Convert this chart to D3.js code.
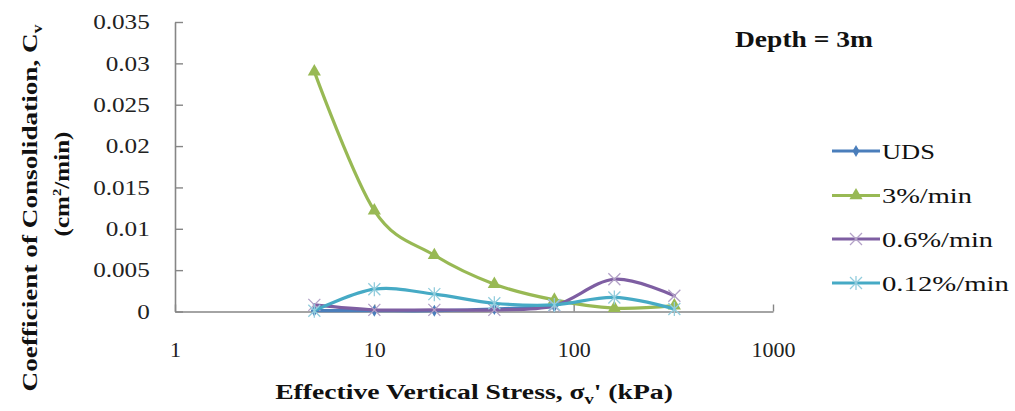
<!DOCTYPE html>
<html><head><meta charset="utf-8">
<script src="https://cdn.jsdelivr.net/npm/d3@7"></script>
<style>body{margin:0;background:#fff}svg{display:block}</style>
</head><body>
<svg id="c" width="1015" height="411"></svg>
<script>
// ---- data ----
const stress = [5, 10, 20, 40, 80, 160, 320];
const udsStress = [5, 10, 20, 40, 80];
const uds = [0.0001, 0.0001, 0.0001, 0.0003, 0.0006];
const rate3 = [0.029, 0.0122, 0.0068, 0.0033, 0.0014, 0.0004, 0.0007];
const rate06 = [0.0008, 0.0002, 0.0002, 0.0002, 0.0007, 0.0039, 0.0019];
const rate012 = [0.0001, 0.0027, 0.0021, 0.0010, 0.0008, 0.0017, 0.0003];
const yTicks = [0, 0.005, 0.01, 0.015, 0.02, 0.025, 0.03, 0.035];
const yTickLabels = ["0", "0.005", "0.01", "0.015", "0.02", "0.025", "0.03", "0.035"];
const xTicks = [1, 10, 100, 1000];
const xTickLabels = ["1", "10", "100", "1000"];
const seriesNames = ["UDS", "3%/min", "0.6%/min", "0.12%/min"];

const FONT = "'Liberation Serif','Times New Roman',serif";
const svg = d3.select("#c");
const x = d3.scaleLog().domain([1, 1000]).range([175, 773]);
const y = d3.scaleLinear().domain([0, 0.035]).range([311.5, 22]);

// axes
const yAxis = svg.append("g").attr("transform", `translate(${x(1)},0)`)
  .call(d3.axisLeft(y).tickValues(yTicks).tickFormat((d, i) => yTickLabels[i])
    .tickSizeInner(-8).tickSizeOuter(0).tickPadding(21));
const xAxis = svg.append("g").attr("transform", `translate(0,${y(0)})`)
  .call(d3.axisBottom(x).tickValues(xTicks).tickFormat((d, i) => xTickLabels[i])
    .tickSizeInner(-7).tickSizeOuter(0).tickPadding(31));
[yAxis, xAxis].forEach(g => {
  g.select(".domain").attr("stroke", "#868686").attr("stroke-width", 1.6);
  g.selectAll(".tick line").attr("stroke", "#868686").attr("stroke-width", 1.4);
  g.selectAll(".tick text").attr("fill", "#222").style("font-family", FONT);
});
yAxis.selectAll(".tick text").style("font-size", "21px").attr("transform", "scale(1.2,1)").attr("x", -21);
xAxis.selectAll(".tick text").style("font-size", "20px").attr("transform", "scale(1.1,1)");

// series
const colors = ["#4A7EBB", "#98B954", "#7E5EA2", "#46AAC5"];
const markColors = ["#4A7EBB", "#98B954", "#B3A2C7", "#93CDDD"];
const series = [
  {name: seriesNames[0], xs: udsStress, ys: uds, mark: "diamond"},
  {name: seriesNames[1], xs: stress, ys: rate3, mark: "triangle"},
  {name: seriesNames[2], xs: stress, ys: rate06, mark: "x"},
  {name: seriesNames[3], xs: stress, ys: rate012, mark: "star"}
];
const line = d3.line().x(d => x(d[0])).y(d => y(d[1])).curve(d3.curveCardinal.tension(0));

function drawMarker(g, type, cx, cy, i) {
  if (type === "diamond") {
    g.append("path").attr("d", d3.symbol(d3.symbolDiamond, 42)()).attr("transform", `translate(${cx},${cy})`).attr("fill", markColors[i]);
  } else if (type === "triangle") {
    g.append("path").attr("d", d3.symbol(d3.symbolTriangle, 75)()).attr("transform", `translate(${cx},${cy})`).attr("fill", markColors[i]);
  } else {
    const r = 6;
    const p = d3.path();
    p.moveTo(cx - r, cy - r); p.lineTo(cx + r, cy + r);
    p.moveTo(cx - r, cy + r); p.lineTo(cx + r, cy - r);
    if (type === "star") { p.moveTo(cx, cy - r - 1); p.lineTo(cx, cy + r + 1); }
    g.append("path").attr("d", p.toString()).attr("stroke", markColors[i]).attr("stroke-width", 1.3).attr("fill", "none");
  }
}

series.forEach((s, i) => {
  const g = svg.append("g");
  const pts = s.xs.map((v, k) => [v, s.ys[k]]);
  g.append("path").attr("d", line(pts)).attr("fill", "none").attr("stroke", colors[i])
    .attr("stroke-width", 3.2).attr("stroke-linejoin", "round").attr("stroke-linecap", "round");
  pts.forEach(p => drawMarker(g, s.mark, x(p[0]), y(p[1]), i));
});

// text helper with horizontal fitting
function addText(parts, px, py, o) {
  const t = svg.append("text").attr("x", 0).attr("y", 0)
    .style("font-family", FONT).style("font-size", o.size + "px")
    .style("font-weight", o.weight || "normal").attr("fill", "#111")
    .attr("text-anchor", o.anchor || "start");
  parts.forEach(p => {
    const ts = t.append("tspan").text(p.t);
    if (p.dy) ts.attr("dy", p.dy);
    if (p.fs) ts.style("font-size", p.fs + "px");
  });
  const w = t.node().getComputedTextLength();
  const sx = o.width ? o.width / w : 1;
  t.attr("transform", `translate(${px},${py}) rotate(${o.rotate || 0}) scale(${sx},1)`);
  return t;
}

// y title
addText([{t: "Coefficient of Consolidation, C"}, {t: "v", dy: 5, fs: 14}], 37, 208,
  {size: 22, weight: "bold", anchor: "middle", rotate: -90, width: 367});
addText([{t: "(cm"}, {t: "2", dy: -8, fs: 13}, {t: "/min)", dy: 8}], 69, 184,
  {size: 22, weight: "bold", anchor: "middle", rotate: -90, width: 105});
// x title
addText([{t: "Effective Vertical Stress, σ"}, {t: "v", dy: 5, fs: 14}, {t: "' (kPa)", dy: -5}], 474, 399,
  {size: 21, weight: "bold", anchor: "middle", width: 398});
// annotation
addText([{t: "Depth = 3m"}], 735, 47, {size: 23, weight: "bold", width: 138});

// legend
const legY = [151, 195.5, 239, 283];
const legW = [53, 90, 111, 127];
series.forEach((s, i) => {
  const g = svg.append("g");
  g.append("line").attr("x1", 832).attr("x2", 880).attr("y1", legY[i]).attr("y2", legY[i])
    .attr("stroke", colors[i]).attr("stroke-width", 3.2);
  drawMarker(g, s.mark, 856, legY[i], i);
  addText([{t: s.name}], 882, legY[i] + 7.5, {size: 22, width: legW[i]});
});
</script>
</body></html>
